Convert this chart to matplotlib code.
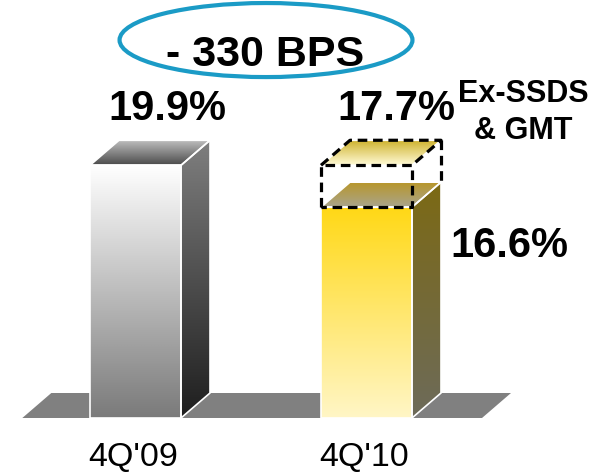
import numpy as np
import matplotlib
matplotlib.use('Agg')
import matplotlib.pyplot as plt
from matplotlib.patches import Polygon, Ellipse
from matplotlib.colors import to_rgb

# data
quarters = ["4Q'09", "4Q'10"]
margins = [19.9, 16.6]
margin_labels = ['19.9%', '16.6%']
ex_label = '17.7%'
ex_note = ['Ex-SSDS', '& GMT']
ex_drawn = 19.9      # height of the dashed "ex" box as drawn on the slide (not to scale)
change_text = '- 330 BPS'

# style
px_per_unit_x = 231.0
px_per_unit_y = 12.7
bar_w = 91 / px_per_unit_x
dx = 29 / px_per_unit_x
dy = 25 / px_per_unit_y

front_cols = [('#7a7a7a', '#ffffff'), ('#fff6c6', '#ffd816')]
side_cols = [('#1e1e1e', '#7f7f7f'), ('#6d6b5a', '#7c6914')]
top_cols = [('#4b4b4b', '#bfbfbf'), ('#a9a58c', '#b8962a')]
ex_top_cols = ('#fffbd6', '#ceb12c')
floor_col = '#808080'

plt.rcParams['font.family'] = ['Liberation Sans', 'DejaVu Sans']


def grad_face(ax, verts, c_bottom, c_top, z=2):
    verts = np.array(verts)
    poly = Polygon(verts, closed=True, facecolor='none', edgecolor='none')
    ax.add_patch(poly)
    t = np.linspace(0, 1, 256)[:, None]
    a = np.array(to_rgb(c_bottom))
    b = np.array(to_rgb(c_top))
    img = (a + (b - a) * t)[:, None, :]
    x0, y0 = verts.min(axis=0)
    x1, y1 = verts.max(axis=0)
    im = ax.imshow(img, extent=[x0, x1, y0, y1], origin='lower', aspect='auto',
                   interpolation='bilinear', zorder=z)
    im.set_clip_path(poly)
    ax.add_patch(Polygon(verts, closed=True, fill=False, edgecolor='white',
                         lw=1.2, zorder=z + 0.1))


fig = plt.figure(figsize=(6.15, 4.74), dpi=100)
ax = fig.add_axes([0, 0, 1, 1])

# floor
x_left = -0.49
x_right = len(margins) - 0.5
ax.add_patch(Polygon([(x_left, 0), (x_right, 0), (x_right + dx, dy), (x_left + dx, dy)],
                     closed=True, facecolor=floor_col, edgecolor='none', zorder=1))

for i, h in enumerate(margins):
    xl = i - bar_w / 2
    xr = i + bar_w / 2
    grad_face(ax, [(xl, 0), (xr, 0), (xr, h), (xl, h)], *front_cols[i])
    grad_face(ax, [(xr, 0), (xr + dx, dy), (xr + dx, h + dy), (xr, h)], *side_cols[i])
    grad_face(ax, [(xl, h), (xr, h), (xr + dx, h + dy), (xl + dx, h + dy)], *top_cols[i])
    ax.text(i - 0.01, -3.8, quarters[i], ha='center', va='baseline', fontsize=24.5)

# dashed ex-SSDS & GMT box on the second bar
i = 1
h = margins[i]
xl = i - bar_w / 2
xr = i + bar_w / 2
grad_face(ax, [(xl, ex_drawn), (xr, ex_drawn), (xr + dx, ex_drawn + dy), (xl + dx, ex_drawn + dy)],
          *ex_top_cols, z=3)
dash = dict(color='black', lw=2.3, ls=(0, (3, 1.8)), zorder=5)
ax.plot([xl, xl, xr, xr, xl], [h, ex_drawn, ex_drawn, h, h], **dash)
ax.plot([xl, xl + dx, xr + dx, xr], [ex_drawn, ex_drawn + dy, ex_drawn + dy, ex_drawn], **dash)
ax.plot([xr + dx, xr + dx], [ex_drawn + dy, h + dy], **dash)

# value labels
ax.text(0 + 0.14, margins[0] + 3.6, margin_labels[0], ha='center', va='baseline',
        fontsize=30, fontweight='bold')
ax.text(1 + 0.13, ex_drawn + 3.55, ex_label, ha='center', va='baseline',
        fontsize=30, fontweight='bold')
ax.text(1 + 0.62, margins[1] - 3.9, margin_labels[1], ha='center', va='baseline',
        fontsize=30, fontweight='bold')
ax.text(1.677, 24.85, ex_note[0], ha='center', va='baseline', fontsize=22, fontweight='bold')
ax.text(1.677, 22.0, ex_note[1], ha='center', va='baseline', fontsize=22, fontweight='bold')

# change bubble
ax.add_patch(Ellipse((0.565, 29.76), 1.268, 5.83, fill=False, edgecolor='#1b9bc6',
                     lw=3, zorder=4))
ax.text(0.56, 27.75, change_text, ha='center', va='baseline', fontsize=31, fontweight='bold')

ax.set_xlim(-135.5 / px_per_unit_x, (615 - 135.5) / px_per_unit_x)
ax.set_ylim((418 - 474) / px_per_unit_y, 418 / px_per_unit_y)
ax.axis('off')

fig.savefig('out.png', dpi=100)
